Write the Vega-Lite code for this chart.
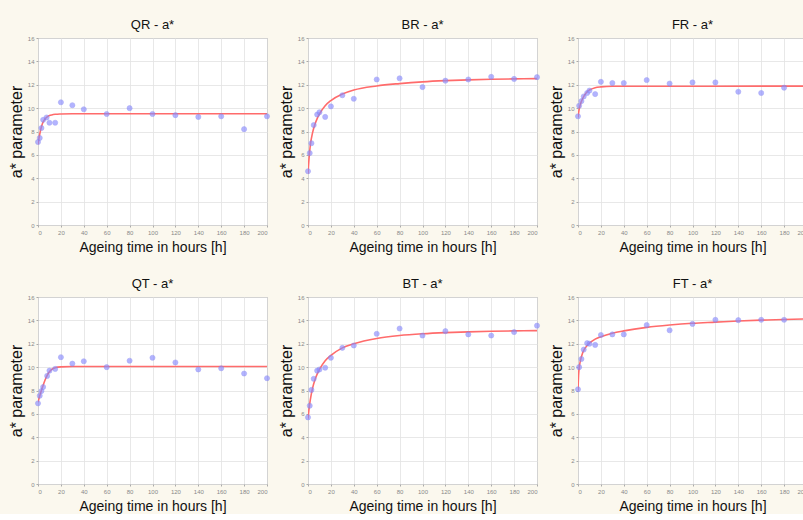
{
  "$schema": "https://vega.github.io/schema/vega-lite/v6.json",
  "background": "#fbf8ee",
  "padding": {"left": 7, "top": 18, "right": 0, "bottom": 0},
  "data": {"values": [
      {"p":"QR - a*","k":"o","t":0,"v":7.1},{"p":"QR - a*","k":"o","t":1.5,"v":7.45},{"p":"QR - a*","k":"o","t":3,"v":8.3},{"p":"QR - a*","k":"o","t":4.5,"v":9.0},{"p":"QR - a*","k":"o","t":7.5,"v":9.2},{"p":"QR - a*","k":"o","t":10,"v":8.75},{"p":"QR - a*","k":"o","t":15,"v":8.75},{"p":"QR - a*","k":"o","t":20,"v":10.5},{"p":"QR - a*","k":"o","t":30,"v":10.25},{"p":"QR - a*","k":"o","t":40,"v":9.9},{"p":"QR - a*","k":"o","t":60,"v":9.5},{"p":"QR - a*","k":"o","t":80,"v":10.0},{"p":"QR - a*","k":"o","t":100,"v":9.5},{"p":"QR - a*","k":"o","t":120,"v":9.4},{"p":"QR - a*","k":"o","t":140,"v":9.25},{"p":"QR - a*","k":"o","t":160,"v":9.3},{"p":"QR - a*","k":"o","t":180,"v":8.2},{"p":"QR - a*","k":"o","t":200,"v":9.3},
      {"p":"BR - a*","k":"o","t":0,"v":4.6},{"p":"BR - a*","k":"o","t":1.5,"v":6.15},{"p":"BR - a*","k":"o","t":3,"v":7.0},{"p":"BR - a*","k":"o","t":5,"v":8.55},{"p":"BR - a*","k":"o","t":8,"v":9.45},{"p":"BR - a*","k":"o","t":10,"v":9.65},{"p":"BR - a*","k":"o","t":15,"v":9.25},{"p":"BR - a*","k":"o","t":20,"v":10.15},{"p":"BR - a*","k":"o","t":30,"v":11.1},{"p":"BR - a*","k":"o","t":40,"v":10.8},{"p":"BR - a*","k":"o","t":60,"v":12.45},{"p":"BR - a*","k":"o","t":80,"v":12.55},{"p":"BR - a*","k":"o","t":100,"v":11.8},{"p":"BR - a*","k":"o","t":120,"v":12.35},{"p":"BR - a*","k":"o","t":140,"v":12.45},{"p":"BR - a*","k":"o","t":160,"v":12.68},{"p":"BR - a*","k":"o","t":180,"v":12.5},{"p":"BR - a*","k":"o","t":200,"v":12.65},
      {"p":"FR - a*","k":"o","t":0,"v":9.3},{"p":"FR - a*","k":"o","t":1,"v":10.2},{"p":"FR - a*","k":"o","t":3,"v":10.6},{"p":"FR - a*","k":"o","t":5,"v":11.0},{"p":"FR - a*","k":"o","t":8,"v":11.3},{"p":"FR - a*","k":"o","t":10,"v":11.5},{"p":"FR - a*","k":"o","t":15,"v":11.2},{"p":"FR - a*","k":"o","t":20,"v":12.25},{"p":"FR - a*","k":"o","t":30,"v":12.15},{"p":"FR - a*","k":"o","t":40,"v":12.15},{"p":"FR - a*","k":"o","t":60,"v":12.4},{"p":"FR - a*","k":"o","t":80,"v":12.1},{"p":"FR - a*","k":"o","t":100,"v":12.2},{"p":"FR - a*","k":"o","t":120,"v":12.2},{"p":"FR - a*","k":"o","t":140,"v":11.4},{"p":"FR - a*","k":"o","t":160,"v":11.3},{"p":"FR - a*","k":"o","t":180,"v":11.75},{"p":"FR - a*","k":"o","t":200,"v":11.9},
      {"p":"QT - a*","k":"o","t":0,"v":6.9},{"p":"QT - a*","k":"o","t":1.5,"v":7.55},{"p":"QT - a*","k":"o","t":3,"v":7.95},{"p":"QT - a*","k":"o","t":4.5,"v":8.3},{"p":"QT - a*","k":"o","t":8,"v":9.25},{"p":"QT - a*","k":"o","t":10,"v":9.7},{"p":"QT - a*","k":"o","t":15,"v":9.85},{"p":"QT - a*","k":"o","t":20,"v":10.85},{"p":"QT - a*","k":"o","t":30,"v":10.3},{"p":"QT - a*","k":"o","t":40,"v":10.5},{"p":"QT - a*","k":"o","t":60,"v":10.0},{"p":"QT - a*","k":"o","t":80,"v":10.55},{"p":"QT - a*","k":"o","t":100,"v":10.8},{"p":"QT - a*","k":"o","t":120,"v":10.4},{"p":"QT - a*","k":"o","t":140,"v":9.8},{"p":"QT - a*","k":"o","t":160,"v":9.9},{"p":"QT - a*","k":"o","t":180,"v":9.45},{"p":"QT - a*","k":"o","t":200,"v":9.05},
      {"p":"BT - a*","k":"o","t":0,"v":5.7},{"p":"BT - a*","k":"o","t":1.5,"v":6.7},{"p":"BT - a*","k":"o","t":3,"v":8.05},{"p":"BT - a*","k":"o","t":5,"v":9.0},{"p":"BT - a*","k":"o","t":8,"v":9.7},{"p":"BT - a*","k":"o","t":10,"v":9.8},{"p":"BT - a*","k":"o","t":15,"v":9.95},{"p":"BT - a*","k":"o","t":20,"v":10.8},{"p":"BT - a*","k":"o","t":30,"v":11.65},{"p":"BT - a*","k":"o","t":40,"v":11.85},{"p":"BT - a*","k":"o","t":60,"v":12.85},{"p":"BT - a*","k":"o","t":80,"v":13.3},{"p":"BT - a*","k":"o","t":100,"v":12.7},{"p":"BT - a*","k":"o","t":120,"v":13.08},{"p":"BT - a*","k":"o","t":140,"v":12.8},{"p":"BT - a*","k":"o","t":160,"v":12.7},{"p":"BT - a*","k":"o","t":180,"v":13.0},{"p":"BT - a*","k":"o","t":200,"v":13.55},
      {"p":"FT - a*","k":"o","t":0,"v":8.1},{"p":"FT - a*","k":"o","t":1,"v":10.0},{"p":"FT - a*","k":"o","t":3,"v":10.7},{"p":"FT - a*","k":"o","t":5,"v":11.5},{"p":"FT - a*","k":"o","t":8,"v":12.05},{"p":"FT - a*","k":"o","t":10,"v":12.0},{"p":"FT - a*","k":"o","t":15,"v":11.9},{"p":"FT - a*","k":"o","t":20,"v":12.75},{"p":"FT - a*","k":"o","t":30,"v":12.8},{"p":"FT - a*","k":"o","t":40,"v":12.8},{"p":"FT - a*","k":"o","t":60,"v":13.6},{"p":"FT - a*","k":"o","t":80,"v":13.15},{"p":"FT - a*","k":"o","t":100,"v":13.7},{"p":"FT - a*","k":"o","t":120,"v":14.05},{"p":"FT - a*","k":"o","t":140,"v":14.02},{"p":"FT - a*","k":"o","t":160,"v":14.05},{"p":"FT - a*","k":"o","t":180,"v":14.05},{"p":"FT - a*","k":"o","t":200,"v":14.15},
      {"p":"QR - a*","k":"f","t":0,"v":6.9},{"p":"QR - a*","k":"f","t":1,"v":7.5},{"p":"QR - a*","k":"f","t":2,"v":8.0},{"p":"QR - a*","k":"f","t":3,"v":8.4},{"p":"QR - a*","k":"f","t":4,"v":8.7},{"p":"QR - a*","k":"f","t":5,"v":8.9},{"p":"QR - a*","k":"f","t":6,"v":9.05},{"p":"QR - a*","k":"f","t":8,"v":9.25},{"p":"QR - a*","k":"f","t":10,"v":9.36},{"p":"QR - a*","k":"f","t":12,"v":9.42},{"p":"QR - a*","k":"f","t":15,"v":9.47},{"p":"QR - a*","k":"f","t":20,"v":9.5},{"p":"QR - a*","k":"f","t":30,"v":9.52},{"p":"QR - a*","k":"f","t":200,"v":9.52},
      {"p":"BR - a*","k":"f","t":0,"v":4.4},{"p":"BR - a*","k":"f","t":1,"v":5.8},{"p":"BR - a*","k":"f","t":2,"v":6.8},{"p":"BR - a*","k":"f","t":4,"v":7.9},{"p":"BR - a*","k":"f","t":6,"v":8.6},{"p":"BR - a*","k":"f","t":8,"v":9.1},{"p":"BR - a*","k":"f","t":10,"v":9.5},{"p":"BR - a*","k":"f","t":15,"v":10.2},{"p":"BR - a*","k":"f","t":20,"v":10.65},{"p":"BR - a*","k":"f","t":30,"v":11.2},{"p":"BR - a*","k":"f","t":40,"v":11.55},{"p":"BR - a*","k":"f","t":60,"v":11.9},{"p":"BR - a*","k":"f","t":80,"v":12.1},{"p":"BR - a*","k":"f","t":100,"v":12.25},{"p":"BR - a*","k":"f","t":120,"v":12.35},{"p":"BR - a*","k":"f","t":140,"v":12.42},{"p":"BR - a*","k":"f","t":160,"v":12.47},{"p":"BR - a*","k":"f","t":180,"v":12.5},{"p":"BR - a*","k":"f","t":200,"v":12.52},
      {"p":"FR - a*","k":"f","t":0,"v":9.2},{"p":"FR - a*","k":"f","t":1,"v":9.9},{"p":"FR - a*","k":"f","t":2,"v":10.3},{"p":"FR - a*","k":"f","t":4,"v":10.8},{"p":"FR - a*","k":"f","t":6,"v":11.15},{"p":"FR - a*","k":"f","t":8,"v":11.4},{"p":"FR - a*","k":"f","t":10,"v":11.55},{"p":"FR - a*","k":"f","t":15,"v":11.75},{"p":"FR - a*","k":"f","t":20,"v":11.82},{"p":"FR - a*","k":"f","t":30,"v":11.87},{"p":"FR - a*","k":"f","t":200,"v":11.88},
      {"p":"QT - a*","k":"f","t":0,"v":7.0},{"p":"QT - a*","k":"f","t":2,"v":7.7},{"p":"QT - a*","k":"f","t":4,"v":8.3},{"p":"QT - a*","k":"f","t":6,"v":8.85},{"p":"QT - a*","k":"f","t":8,"v":9.3},{"p":"QT - a*","k":"f","t":10,"v":9.6},{"p":"QT - a*","k":"f","t":12,"v":9.8},{"p":"QT - a*","k":"f","t":15,"v":9.95},{"p":"QT - a*","k":"f","t":20,"v":10.02},{"p":"QT - a*","k":"f","t":30,"v":10.05},{"p":"QT - a*","k":"f","t":200,"v":10.05},
      {"p":"BT - a*","k":"f","t":0,"v":5.6},{"p":"BT - a*","k":"f","t":1,"v":6.5},{"p":"BT - a*","k":"f","t":2,"v":7.2},{"p":"BT - a*","k":"f","t":4,"v":8.2},{"p":"BT - a*","k":"f","t":6,"v":8.9},{"p":"BT - a*","k":"f","t":8,"v":9.4},{"p":"BT - a*","k":"f","t":10,"v":9.8},{"p":"BT - a*","k":"f","t":15,"v":10.55},{"p":"BT - a*","k":"f","t":20,"v":11.0},{"p":"BT - a*","k":"f","t":30,"v":11.65},{"p":"BT - a*","k":"f","t":40,"v":12.0},{"p":"BT - a*","k":"f","t":60,"v":12.45},{"p":"BT - a*","k":"f","t":80,"v":12.7},{"p":"BT - a*","k":"f","t":100,"v":12.85},{"p":"BT - a*","k":"f","t":120,"v":12.95},{"p":"BT - a*","k":"f","t":140,"v":13.02},{"p":"BT - a*","k":"f","t":160,"v":13.07},{"p":"BT - a*","k":"f","t":180,"v":13.1},{"p":"BT - a*","k":"f","t":200,"v":13.12},
      {"p":"FT - a*","k":"f","t":0,"v":8.0},{"p":"FT - a*","k":"f","t":0.5,"v":9.3},{"p":"FT - a*","k":"f","t":1,"v":9.9},{"p":"FT - a*","k":"f","t":2,"v":10.5},{"p":"FT - a*","k":"f","t":4,"v":11.2},{"p":"FT - a*","k":"f","t":6,"v":11.6},{"p":"FT - a*","k":"f","t":8,"v":11.85},{"p":"FT - a*","k":"f","t":10,"v":12.05},{"p":"FT - a*","k":"f","t":15,"v":12.4},{"p":"FT - a*","k":"f","t":20,"v":12.6},{"p":"FT - a*","k":"f","t":30,"v":12.9},{"p":"FT - a*","k":"f","t":40,"v":13.1},{"p":"FT - a*","k":"f","t":60,"v":13.4},{"p":"FT - a*","k":"f","t":80,"v":13.6},{"p":"FT - a*","k":"f","t":100,"v":13.75},{"p":"FT - a*","k":"f","t":120,"v":13.85},{"p":"FT - a*","k":"f","t":140,"v":13.95},{"p":"FT - a*","k":"f","t":160,"v":14.02},{"p":"FT - a*","k":"f","t":180,"v":14.08},{"p":"FT - a*","k":"f","t":200,"v":14.12}
  ]},
  "facet": {
    "field": "p",
    "type": "nominal",
    "sort": ["QR - a*","BR - a*","FR - a*","QT - a*","BT - a*","FT - a*"],
    "header": {"title": null, "labelFont": "Liberation Sans", "labelFontSize": 13, "labelColor": "#111", "labelPadding": 3}
  },
  "columns": 3,
  "spacing": {"column": 5, "row": 22},
  "resolve": {"axis": {"x": "independent", "y": "independent"}},
  "spec": {
    "width": 229,
    "height": 187,
    "encoding": {
      "x": {
        "field": "t", "type": "quantitative",
        "scale": {"domain": [0, 200], "nice": false},
        "axis": {"title": "Ageing time in hours [h]", "values": [0,20,40,60,80,100,120,140,160,180,200]}
      },
      "y": {
        "field": "v", "type": "quantitative",
        "scale": {"domain": [0, 16], "nice": false},
        "axis": {"title": "a* parameter", "values": [0,2,4,6,8,10,12,14,16]}
      }
    },
    "layer": [
      {
        "transform": [{"filter": "datum.k === 'f'"}],
        "mark": {"type": "line", "color": "#ff6b6b", "strokeWidth": 1.6, "interpolate": "monotone", "clip": true},
        "encoding": {}
      },
      {
        "transform": [{"filter": "datum.k === 'o'"}],
        "mark": {"type": "circle", "color": "#8a8cff", "opacity": 0.65, "size": 26, "stroke": "#7c7ef0", "strokeWidth": 0.6},
        "encoding": {}
      }
    ]
  },
  "config": {
    "view": {"stroke": "#9a9a9a", "fill": "white", "strokeWidth": 1},
    "axis": {
      "grid": true, "gridColor": "#e2e2e2", "gridWidth": 0.8,
      "domain": false, "ticks": true, "tickColor": "#aaa", "tickSize": 2,
      "labelFont": "Liberation Sans", "labelFontSize": 6, "labelColor": "#888", "labelPadding": 2,
      "titleFont": "Liberation Sans", "titleFontWeight": "normal", "titleColor": "#111"
    },
    "axisX": {"titleFontSize": 14, "titlePadding": 5, "labelOverlap": false},
    "axisY": {"titleFontSize": 16, "titlePadding": 3}
  }
}
